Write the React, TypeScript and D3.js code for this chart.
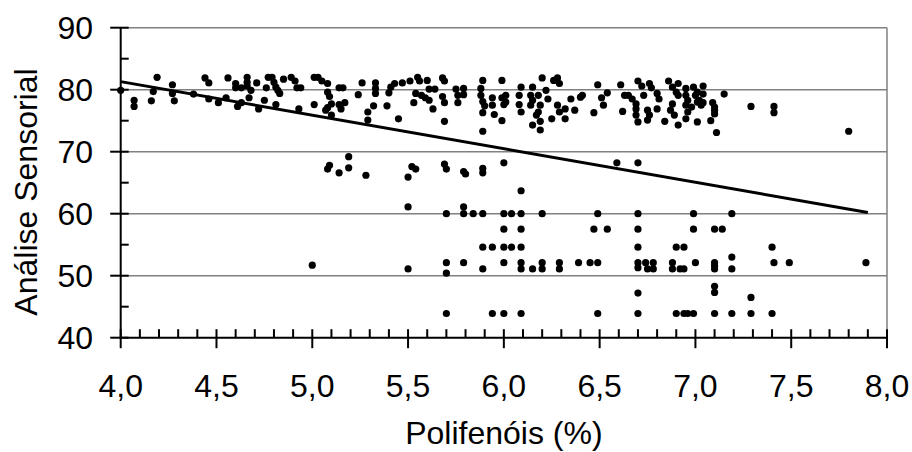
import React from "react";
import * as d3 from "d3";

// ---- Data ----
const upperBand: [number, number][] = [
  [4.0, 79.9], [4.07, 78.3], [4.07, 77.3], [4.19, 82.0], [4.16, 78.2], [4.17, 79.7], [4.27, 80.8], [4.27, 79.4],
  [4.28, 78.2], [4.38, 79.3], [4.44, 81.9], [4.46, 81.1], [4.46, 78.5], [4.51, 77.9], [4.55, 78.7], [4.56, 81.9],
  [4.6, 81.0], [4.6, 80.3], [4.61, 77.3], [4.63, 77.9], [4.63, 80.3], [4.66, 82.0], [4.66, 81.2], [4.66, 80.6],
  [4.67, 78.7], [4.68, 79.9], [4.71, 81.1], [4.72, 76.9], [4.75, 78.3], [4.76, 80.3], [4.77, 82.0], [4.79, 82.0],
  [4.8, 81.2], [4.81, 77.6], [4.81, 80.4], [4.82, 79.9], [4.83, 79.4], [4.85, 81.7], [4.89, 82.0], [4.91, 81.4],
  [4.92, 80.3], [4.94, 80.3], [4.93, 76.9], [5.01, 82.0], [5.01, 77.6],
  [5.03, 82.0], [5.05, 81.4], [5.08, 81.0], [5.08, 79.6], [5.09, 78.9], [5.07, 76.7], [5.08, 77.1], [5.1, 77.7],
  [5.1, 75.9], [5.14, 80.3], [5.16, 80.3], [5.14, 77.6], [5.15, 76.9], [5.17, 77.9], [5.24, 79.2], [5.26, 81.1],
  [5.29, 76.4], [5.29, 75.1], [5.32, 77.4], [5.33, 81.1], [5.33, 80.2], [5.33, 79.4], [5.39, 77.4], [5.4, 79.5],
  [5.41, 80.4], [5.43, 81.0], [5.45, 75.3], [5.47, 81.1], [5.51, 81.4], [5.55, 82.0], [5.56, 81.4], [5.6, 81.5],
  [5.53, 77.9], [5.54, 79.4], [5.57, 79.1], [5.59, 78.7], [5.61, 78.3], [5.61, 80.1], [5.64, 80.1], [5.63, 76.9],
  [5.68, 81.9], [5.69, 81.4], [5.68, 78.9], [5.69, 77.9], [5.69, 74.9], [5.75, 80.1], [5.76, 79.1], [5.76, 77.9],
  [5.79, 80.2], [5.79, 79.2], [5.89, 81.5], [5.88, 80.2], [5.88, 79.1], [5.89, 78.1], [5.9, 77.4], [5.89, 76.3],
  [5.89, 73.3], [5.94, 78.7], [5.94, 77.5], [5.95, 76.0], [5.99, 81.5], [5.99, 78.7], [6.0, 77.6], [5.99, 75.0],
  [6.01, 79.1], [6.01, 78.0], [6.09, 80.4], [6.08, 79.1], [6.08, 77.6], [6.09, 76.4], [6.15, 80.4], [6.14, 79.1],
  [6.15, 78.3], [6.14, 77.5], [6.15, 74.3], [6.17, 75.9], [6.18, 79.1], [6.19, 77.5], [6.18, 76.4], [6.19, 74.9],
  [6.19, 73.5], [6.2, 81.9], [6.22, 79.9], [6.23, 78.5], [6.26, 81.5], [6.28, 81.9], [6.25, 75.3], [6.28, 77.5],
  [6.29, 76.4], [6.29, 81.0], [6.32, 76.9], [6.32, 75.3], [6.35, 78.5], [6.37, 76.7], [6.4, 78.8], [6.41, 79.1],
  [6.47, 76.3], [6.49, 80.8], [6.51, 78.7], [6.52, 77.5], [6.54, 79.5], [6.61, 80.8], [6.62, 76.5], [6.63, 79.1],
  [6.65, 79.1], [6.7, 81.4], [6.67, 78.5], [6.69, 77.7], [6.69, 76.9], [6.69, 75.9], [6.7, 74.8], [6.72, 80.6],
  [6.73, 79.1], [6.76, 81.0], [6.77, 80.3], [6.75, 76.7], [6.76, 75.9], [6.75, 75.1], [6.8, 79.4], [6.81, 78.5],
  [6.8, 76.9], [6.86, 81.4], [6.88, 80.4], [6.9, 79.6], [6.91, 79.1], [6.88, 77.7], [6.87, 76.7], [6.89, 75.9],
  [6.91, 81.0], [6.84, 74.9], [6.91, 74.3], [6.95, 80.2], [6.95, 79.1], [6.96, 78.3], [6.96, 76.4], [6.98, 77.2],
  [6.95, 77.5], [6.95, 75.3], [7.0, 79.1], [7.01, 79.6], [7.01, 78.0], [7.02, 78.3], [7.03, 77.5], [7.01, 74.8],
  [6.99, 80.4], [7.04, 80.6], [7.04, 79.3], [7.04, 77.9], [7.15, 79.3], [7.09, 77.9], [7.1, 77.2], [7.1, 76.7],
  [7.1, 76.1], [7.08, 75.0], [7.11, 73.1], [7.29, 77.3], [7.41, 77.3], [7.41, 76.3], [7.8, 73.3],
];

const middleBand: [number, number][] = [
  [5.09, 67.8], [5.08, 67.2], [5.14, 66.6], [5.19, 69.2], [5.19, 67.4], [5.28, 66.2], [5.5, 65.9], [5.52, 67.6],
  [5.54, 67.2], [5.69, 68.0], [5.7, 67.2], [5.79, 66.8], [5.8, 66.4], [5.89, 67.3], [5.89, 66.6], [6.0, 68.2],
  [6.59, 68.2], [6.7, 68.2], [6.09, 63.7],
];

const lowerBand: [number, number][] = [
  [5.5, 61.1], [5.79, 61.1],
  [5.7, 60], [5.79, 60], [5.84, 60], [5.89, 60], [6.0, 60], [6.04, 60], [6.09, 60], [6.2, 60], [6.49, 60],
  [6.7, 60], [6.99, 60], [7.19, 60],
  [6.0, 57.5], [6.09, 57.5], [6.47, 57.5], [6.54, 57.5], [6.7, 57.5], [6.99, 57.5], [7.1, 57.5], [7.14, 57.5],
  [5.89, 54.6], [5.94, 54.6], [6.0, 54.6], [6.04, 54.6], [6.09, 54.6], [6.7, 54.6], [6.9, 54.6], [6.94, 54.6],
  [7.4, 54.6], [7.19, 53.0],
  [5.7, 52.1], [5.79, 52.1], [6.0, 52.1], [6.09, 52.1], [6.2, 52.1], [6.29, 52.1], [6.39, 52.1], [6.45, 52.1],
  [6.49, 52.1], [6.7, 52.1], [6.74, 52.1], [6.78, 52.1], [6.88, 52.1], [7.0, 52.1], [7.1, 52.1], [7.41, 52.1],
  [7.49, 52.1], [7.89, 52.1], [7.1, 51.6],
  [5.5, 51.1], [5.89, 51.1], [6.09, 51.1], [6.15, 51.1], [6.2, 51.1], [6.29, 51.1], [6.7, 51.3], [6.75, 51.1],
  [6.78, 51.1], [6.88, 51.1], [6.92, 51.1], [6.94, 51.1], [7.1, 51.1], [7.19, 51.1],
  [5.0, 51.7], [5.7, 50.4],
  [7.1, 48.3], [7.1, 47.3], [6.7, 47.2], [7.29, 46.5],
  [5.7, 43.9], [5.94, 43.9], [6.0, 43.9], [6.09, 43.9], [6.49, 43.9], [6.7, 43.9], [6.9, 43.9], [6.94, 43.9],
  [6.96, 43.9], [6.99, 43.9], [7.1, 43.9], [7.19, 43.9], [7.29, 43.9], [7.4, 43.9],
];

// linear trend line
const trendIntercept = 102.94;
const trendSlope = -5.41;
const trendRange = [4.0, 7.9];

const xTicks = [4.0, 4.5, 5.0, 5.5, 6.0, 6.5, 7.0, 7.5, 8.0];
const yTicks = [40, 50, 60, 70, 80, 90];
const xTitle = "Polifenóis (%)";
const yTitle = "Análise Sensorial";

const W = 912;
const H = 452;
const FONT = "'Liberation Sans', Arial, sans-serif";
const FS = 32;

export default function App() {
  React.useEffect(() => {
    document.body.style.margin = "0";
  }, []);

  const left = 120.7, right = 887, top = 27.7, bottom = 337.7;
  const x = d3.scaleLinear().domain([4, 8]).range([left, right]);
  const y = d3.scaleLinear().domain([40, 90]).range([bottom, top]);

  const allPoints = [...upperBand, ...middleBand, ...lowerBand];
  const minorX = d3.range(40, 81).map((v) => v / 10).filter((v) => Math.round(v * 10) % 5 !== 0);
  const minorY = d3.range(45, 90, 10);
  const fmt = (v: number) => v.toFixed(1).replace(".", ",");
  const trendLine = d3.line<number>()
    .x((v) => x(v))
    .y((v) => y(trendIntercept + trendSlope * v));

  return (
    <svg width={W} height={H} style={{ position: "absolute", left: 0, top: 0, background: "#fff" }} fontFamily={FONT}>
      <rect x={0} y={0} width={W} height={H} fill="#fff" />
      {/* gridlines */}
      {yTicks.filter((t) => t > 40).map((t) => (
        <line key={"g" + t} x1={left} x2={right} y1={y(t)} y2={y(t)} stroke="#808080" strokeWidth={1.5} />
      ))}
      <line x1={right} x2={right} y1={top} y2={bottom} stroke="#808080" strokeWidth={1.5} />

      {/* points */}
      {allPoints.map(([px, py], i) => (
        <circle key={i} cx={x(px)} cy={y(py)} r={3.6} fill="#000" />
      ))}

      {/* trend line */}
      <path d={trendLine(trendRange) || ""} fill="none" stroke="#000" strokeWidth={3} />

      {/* axes */}
      <line x1={left} x2={left} y1={top} y2={bottom + 1} stroke="#000" strokeWidth={2} />
      <line x1={left - 1} x2={right + 1} y1={bottom} y2={bottom} stroke="#000" strokeWidth={2} />
      {yTicks.map((t) => (
        <line key={"yt" + t} x1={left - 10.5} x2={left + 8} y1={y(t)} y2={y(t)} stroke="#000" strokeWidth={2} />
      ))}
      {minorY.map((t) => (
        <line key={"ym" + t} x1={left} x2={left + 8} y1={y(t)} y2={y(t)} stroke="#000" strokeWidth={2} />
      ))}
      {xTicks.map((t) => (
        <line key={"xt" + t} x1={x(t)} x2={x(t)} y1={bottom - 8.5} y2={bottom + 10.5} stroke="#000" strokeWidth={2} />
      ))}
      {minorX.map((t) => (
        <line key={"xm" + t} x1={x(t)} x2={x(t)} y1={bottom - 8.5} y2={bottom} stroke="#000" strokeWidth={2} />
      ))}

      {/* tick labels */}
      {yTicks.map((t) => (
        <text key={"yl" + t} x={93} y={y(t)} dy="0.35em" textAnchor="end" fontSize={FS} fill="#000">
          {t}
        </text>
      ))}
      {xTicks.map((t) => (
        <text key={"xl" + t} x={x(t)} y={397} textAnchor="middle" fontSize={FS} fill="#000">
          {fmt(t)}
        </text>
      ))}

      {/* titles */}
      <text x={(left + right) / 2} y={444} textAnchor="middle" fontSize={FS} fill="#000">
        {xTitle}
      </text>
      <text transform={`translate(37,192) rotate(-90)`} textAnchor="middle" fontSize={FS} fill="#000">
        {yTitle}
      </text>
    </svg>
  );
}
